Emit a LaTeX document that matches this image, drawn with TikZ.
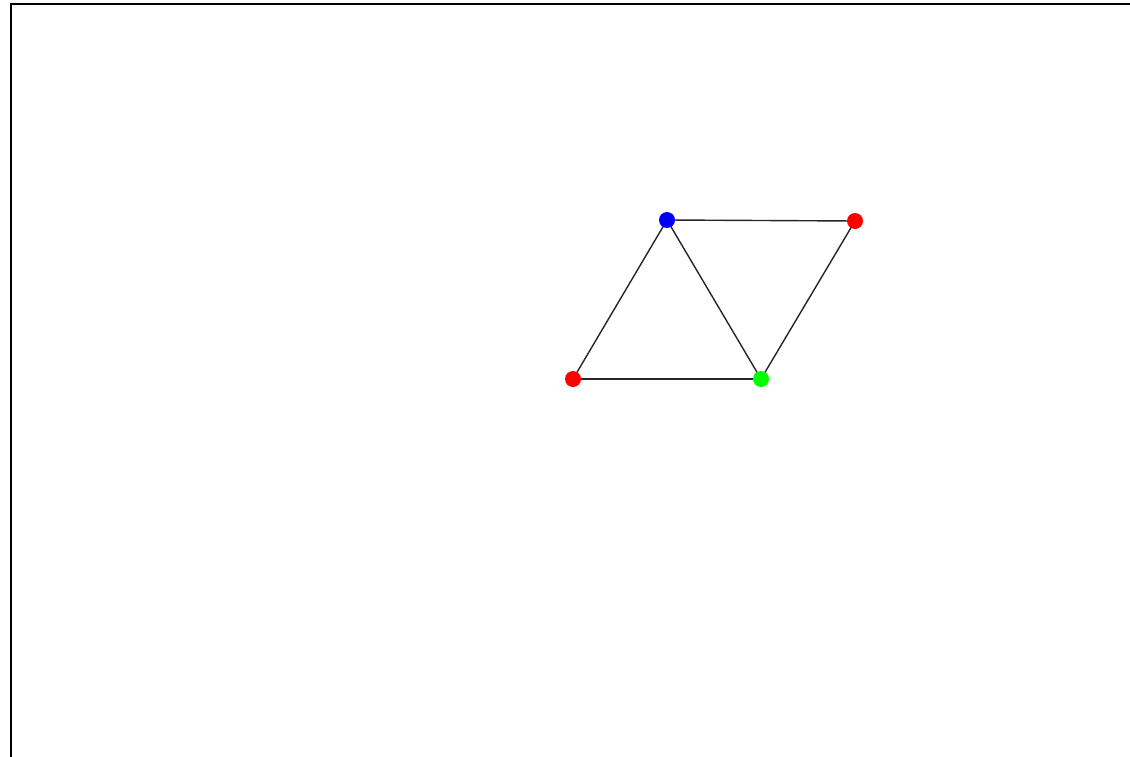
\documentclass[tikz,border=0pt]{standalone}
\pgfdeclarelayer{bg}
\pgfsetlayers{bg,main}
\begin{document}
\begin{tikzpicture}[x=1pt,y=-1pt,
  vtx/.style={circle,inner sep=0pt,minimum size=16pt,draw=none},
  edge/.style={line width=1.4pt,black!85}]
\useasboundingbox (0,0) rectangle (1130,757);
\coordinate (fa) at (11,757);
\coordinate (fb) at (11,4);
\coordinate (fc) at (1130,4);
\draw[line width=2.2pt] (fa) -- (fb) -- (fc);
\node[vtx,fill=blue] (b) at (667,220) {};
\node[vtx,fill=red] (r1) at (855,221) {};
\node[vtx,fill=red] (r2) at (573,379) {};
\node[vtx,fill=green] (g) at (761,379) {};
\begin{pgfonlayer}{bg}
\fill[white] (0,0) rectangle (1130,757);
\draw[edge] (b.center) -- (r1.center);
\draw[edge] (b.center) -- (r2.center);
\draw[edge] (b.center) -- (g.center);
\draw[edge] (r1.center) -- (g.center);
\draw[edge] (r2.center) -- (g.center);
\end{pgfonlayer}
\end{tikzpicture}
\end{document}
